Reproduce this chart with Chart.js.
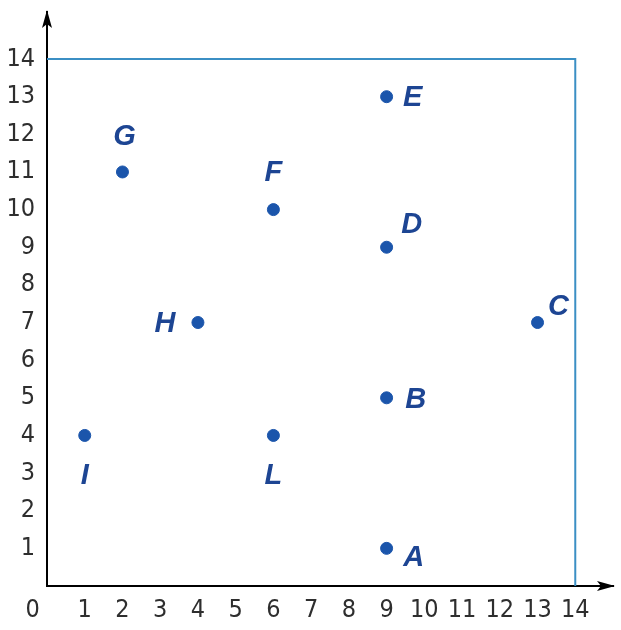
<!DOCTYPE html>
<html lang="en">
<head>
    <meta charset="UTF-8">
    <title>Points on a grid</title>
    <script src="https://cdn.jsdelivr.net/npm/chart.js"></script>
    <style>
        body {
            margin: 0;
            background-color: #fff;
        }
        .chart-box {
            width: 621px;
            height: 630px;
        }
    </style>
</head>
<body>
    <div class="chart-box">
        <canvas id="grid-chart"></canvas>
    </div>

    <script>
        // points
        const pointNames = ['A', 'B', 'C', 'D', 'E', 'F', 'G', 'H', 'I', 'L'];
        const pointX = [9, 9, 13, 9, 9, 6, 2, 4, 1, 6];
        const pointY = [1, 5, 7, 9, 13, 10, 11, 7, 4, 4];

        // corners of the blue square (top edge and right edge)
        const boxX = [0, 14, 14];
        const boxY = [14, 14, 0];

        const xTicks = [0, 1, 2, 3, 4, 5, 6, 7, 8, 9, 10, 11, 12, 13, 14];
        const yTicks = [1, 2, 3, 4, 5, 6, 7, 8, 9, 10, 11, 12, 13, 14];

        const tickFont = { family: "'DejaVu Sans Condensed', 'Liberation Sans Narrow', sans-serif", size: 25 };

        // label offsets in px, relative to the dot
        const labelShift = {
            A: [27, 10], B: [29, 2], C: [21, -16], D: [25, -22], E: [26, 1],
            F: [0, -37], G: [2, -35], H: [-33, 1], I: [0, 41], L: [0, 41]
        };

        const pointLabels = {
            id: 'pointLabels',
            afterDatasetsDraw(chart) {
                const ctx = chart.ctx;
                const meta = chart.getDatasetMeta(1);
                ctx.save();
                ctx.font = "italic bold 29px 'Liberation Sans', Arial, sans-serif";
                ctx.fillStyle = '#1d4593';
                ctx.textAlign = 'center';
                ctx.textBaseline = 'middle';
                meta.data.forEach((pt, i) => {
                    const name = pointNames[i];
                    const d = labelShift[name] || [20, 0];
                    ctx.fillText(name, pt.x + d[0], pt.y + d[1]);
                });
                ctx.restore();
            }
        };

        const axisArrows = {
            id: 'axisArrows',
            afterDraw(chart) {
                const ctx = chart.ctx;
                const area = chart.chartArea;
                const x0 = chart.scales.x.getPixelForValue(0);
                const y0 = chart.scales.y.getPixelForValue(0);
                ctx.save();
                ctx.fillStyle = '#000';
                // x arrow
                ctx.beginPath();
                ctx.moveTo(area.right + 2, y0);
                ctx.lineTo(area.right - 16, y0 - 5);
                ctx.lineTo(area.right - 12, y0);
                ctx.lineTo(area.right - 16, y0 + 5);
                ctx.closePath();
                ctx.fill();
                // y arrow
                ctx.beginPath();
                ctx.moveTo(x0, area.top - 2);
                ctx.lineTo(x0 - 5, area.top + 16);
                ctx.lineTo(x0, area.top + 12);
                ctx.lineTo(x0 + 5, area.top + 16);
                ctx.closePath();
                ctx.fill();
                ctx.restore();
            }
        };

        const ctx = document.getElementById('grid-chart').getContext('2d');
        const chart = new Chart(ctx, {
            type: 'scatter',
            data: {
                datasets: [
                    {
                        type: 'line',
                        data: boxX.map((x, i) => ({ x: x, y: boxY[i] })),
                        borderColor: '#3b8fc4',
                        borderWidth: 2,
                        pointRadius: 0,
                        fill: false,
                        tension: 0
                    },
                    {
                        data: pointX.map((x, i) => ({ x: x, y: pointY[i] })),
                        backgroundColor: '#1b55ab',
                        borderColor: '#1b55ab',
                        pointRadius: 6,
                        pointHoverRadius: 6
                    }
                ]
            },
            options: {
                responsive: true,
                maintainAspectRatio: false,
                animation: false,
                layout: { padding: { top: 12, right: 8, left: 0, bottom: 0 } },
                plugins: {
                    legend: { display: false },
                    tooltip: { enabled: false }
                },
                scales: {
                    x: {
                        type: 'linear',
                        min: 0,
                        max: 15,
                        afterBuildTicks: scale => {
                            scale.ticks = xTicks.map(v => ({ value: v }));
                        },
                        afterFit: scale => {
                            scale.height = 44;
                            scale.paddingLeft = 0;
                            scale.paddingRight = 0;
                        },
                        grid: { color: 'transparent', drawTicks: false },
                        border: { color: '#000', width: 2 },
                        ticks: {
                            font: tickFont,
                            color: '#2e2e2e',
                            padding: 9,
                            maxRotation: 0,
                            autoSkip: false,
                            // the 0 sits a bit left of the origin in the original
                            callback: v => v === 0 ? '0    ' : String(v)
                        }
                    },
                    y: {
                        type: 'linear',
                        min: 0,
                        max: 15.25,
                        afterBuildTicks: scale => {
                            scale.ticks = yTicks.map(v => ({ value: v }));
                        },
                        afterFit: scale => {
                            scale.width = 47;
                            scale.paddingTop = 0;
                            scale.paddingBottom = 0;
                        },
                        grid: { color: 'transparent', drawTicks: false },
                        border: { color: '#000', width: 2 },
                        ticks: {
                            font: tickFont,
                            color: '#2e2e2e',
                            padding: 12,
                            autoSkip: false
                        }
                    }
                }
            },
            plugins: [pointLabels, axisArrows]
        });
    </script>
</body>
</html>
